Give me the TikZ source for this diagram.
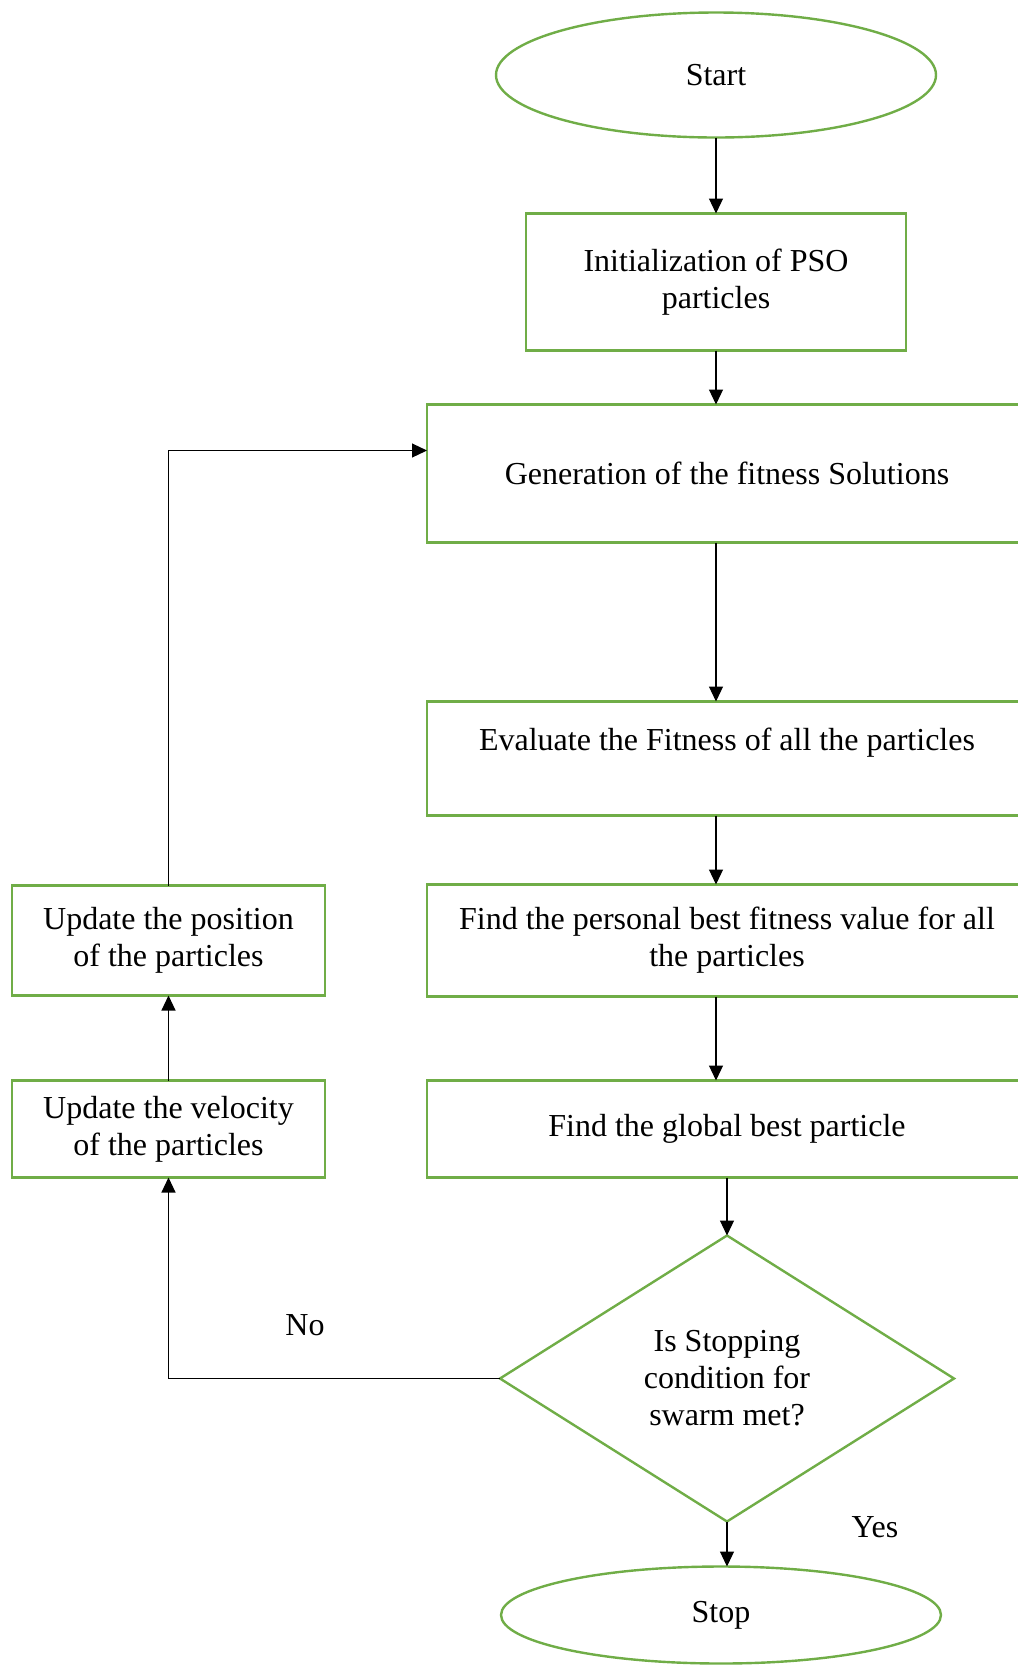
\documentclass[tikz,border=0pt]{standalone}
\usepackage{fontspec}
\setmainfont{Liberation Serif}
\usetikzlibrary{shapes.geometric, arrows.meta, positioning, calc}
\definecolor{flowgreen}{RGB}{112,173,71}
\tikzset{
    terminal/.style={ellipse, draw=flowgreen, line width=1.2pt, minimum width=220pt, minimum height=62.5pt, inner sep=0pt, outer sep=0pt, text centered},
    process/.style={rectangle, draw=flowgreen, line width=1.2pt, minimum width=300pt, inner sep=0pt, outer sep=0pt, align=center},
    sidebox/.style={rectangle, draw=flowgreen, line width=1.2pt, minimum width=156.5pt, inner sep=0pt, outer sep=0pt, align=center},
    decision/.style={diamond, draw=flowgreen, line width=1.2pt, minimum width=227pt, minimum height=143pt, inner sep=0pt, outer sep=0pt, align=center},
    arrow/.style={-{Triangle[length=7.5pt, width=7pt]}, line width=0.6pt},
}

\begin{document}
\begin{tikzpicture}[font=\fontsize{16}{18.5}\selectfont]
    \useasboundingbox (0pt,0pt) rectangle (509pt,-833.5pt);
    % Nodes
    \node[terminal] (start) at (358pt,-37.5pt) {Start};
    \node[process, below=38pt of start, minimum width=190pt, minimum height=68.5pt] (init) {Initialization of PSO\\particles};
    \node[process, below=27pt of init, xshift=5.5pt, minimum height=69pt] (gen) {Generation of the fitness Solutions};
    \node[process, below=79.5pt of gen, minimum height=57pt, text depth=19.5pt] (eval) {Evaluate the Fitness of all the particles};
    \node[process, below=34.5pt of eval, minimum height=56pt] (pbest) {Find the personal best fitness value for all\\the particles};
    \node[process, below=42pt of pbest, minimum height=48.5pt] (gbest) {Find the global best particle};
    \node[decision, below=29pt of gbest] (dec) {Is Stopping\\condition for\\swarm met?};
    \node[terminal, below=22.5pt of dec, xshift=-3pt, minimum height=48.5pt] (stop) {Stop};

    \node[sidebox, left=51pt of pbest, minimum height=55pt] (pos) {Update the position\\of the particles};
    \node[sidebox, left=51pt of gbest, minimum height=48.5pt] (vel) {Update the velocity\\of the particles};

    \node (no) at (152.5pt,-662.5pt) {No};
    \node (yes) at (437.5pt,-763.5pt) {Yes};

    % Connections
    \draw[arrow] (start) -- (init);
    \draw[arrow] (init) -- (init |- gen.north);
    \draw[arrow] (init |- gen.south) -- (init |- eval.north);
    \draw[arrow] (init |- eval.south) -- (init |- pbest.north);
    \draw[arrow] (init |- pbest.south) -- (init |- gbest.north);
    \draw[arrow] (gbest) -- (dec);
    \draw[arrow] (dec) -- (dec |- stop.north);
    \draw[arrow] (dec.west) -| (vel.south);
    \draw[arrow] (vel) -- (pos);
    \draw[arrow] (pos.north) |- ([yshift=11.5pt]gen.west);
\end{tikzpicture}
\end{document}
